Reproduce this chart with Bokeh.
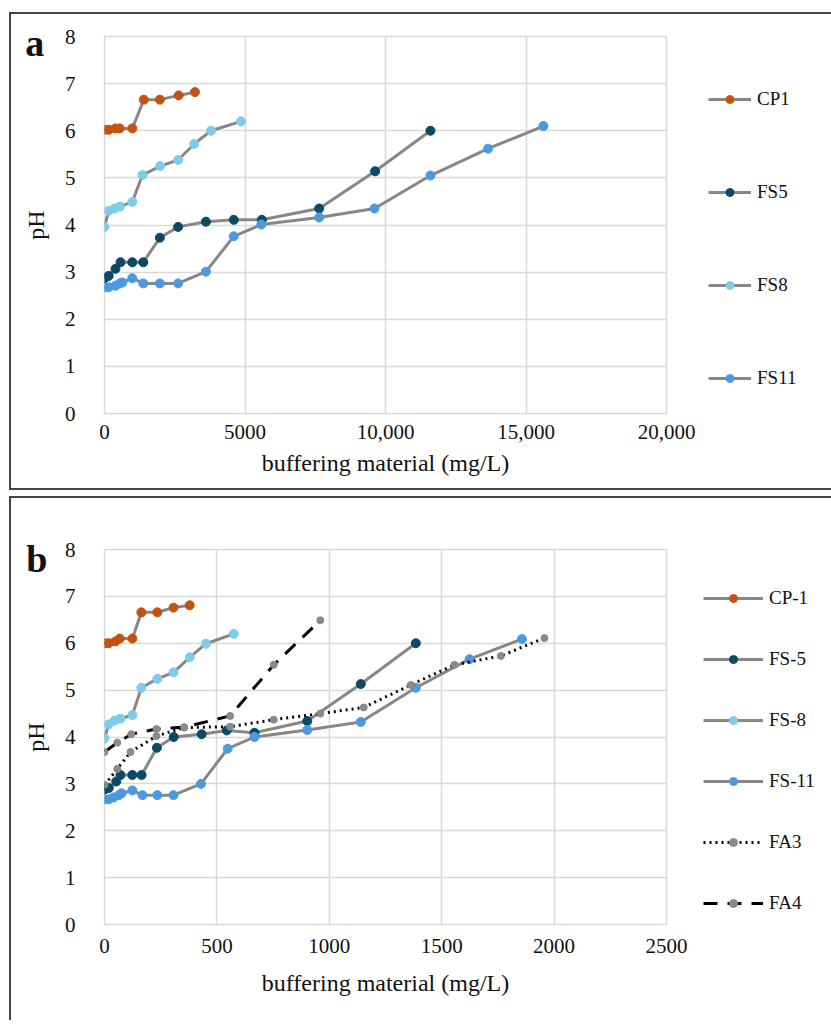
from bokeh.plotting import figure
from bokeh.models import Range1d, FixedTicker, Legend, LegendItem, Spacer
from bokeh.layouts import column, row
from bokeh.embed import file_html
from bokeh.resources import INLINE

# ---------------- Panel a data (x: mg/L, y: pH) ----------------
a_cp1_x = [0, 150, 390, 540, 990, 1400, 1970, 2640, 3220]
a_cp1_y = [6.02, 6.02, 6.05, 6.05, 6.05, 6.66, 6.66, 6.75, 6.82]
a_fs5_x = [0, 150, 390, 570, 990, 1380, 1970, 2620, 3610, 4600, 5600, 7640, 9630, 11600]
a_fs5_y = [2.87, 2.92, 3.07, 3.21, 3.21, 3.21, 3.73, 3.96, 4.07, 4.11, 4.11, 4.35, 5.14, 6.00]
a_fs8_x = [0, 150, 360, 550, 990, 1350, 1980, 2620, 3190, 3790, 4860]
a_fs8_y = [3.96, 4.30, 4.35, 4.39, 4.49, 5.06, 5.25, 5.38, 5.72, 6.00, 6.20]
a_fs11_x = [0, 150, 390, 550, 630, 990, 1380, 1970, 2620, 3610, 4600, 5580, 7640, 9610, 11600, 13650, 15620]
a_fs11_y = [2.68, 2.68, 2.71, 2.76, 2.78, 2.87, 2.76, 2.76, 2.76, 3.01, 3.76, 4.01, 4.16, 4.35, 5.05, 5.62, 6.10]
a_names = ["CP1", "FS5", "FS8", "FS11"]
a_xticks = [0, 5000, 10000, 15000, 20000]
a_xtick_labels = ["0", "5000", "10,000", "15,000", "20,000"]

# ---------------- Panel b data ----------------
b_cp1_x = [0, 19, 49, 68, 124, 164, 235, 307, 379]
b_cp1_y = [6.00, 6.00, 6.04, 6.10, 6.10, 6.66, 6.66, 6.76, 6.81]
b_fs5_x = [0, 19, 52, 71, 124, 165, 233, 308, 432, 544, 667, 902, 1140, 1385]
b_fs5_y = [2.88, 2.91, 3.05, 3.19, 3.19, 3.19, 3.77, 4.00, 4.06, 4.14, 4.09, 4.34, 5.13, 6.00]
b_fs8_x = [0, 19, 45, 71, 124, 164, 235, 307, 379, 451, 575]
b_fs8_y = [3.97, 4.27, 4.35, 4.39, 4.47, 5.05, 5.24, 5.38, 5.70, 5.99, 6.20]
b_fs11_x = [0, 19, 41, 64, 76, 124, 169, 235, 307, 429, 548, 667, 902, 1140, 1385, 1624, 1857]
b_fs11_y = [2.67, 2.67, 2.71, 2.76, 2.80, 2.86, 2.76, 2.76, 2.76, 3.00, 3.75, 4.00, 4.15, 4.32, 5.05, 5.66, 6.09]
b_fa3_x = [0, 57, 116, 231, 354, 559, 753, 960, 1153, 1362, 1557, 1763, 1957]
b_fa3_y = [2.98, 3.32, 3.68, 4.02, 4.20, 4.22, 4.37, 4.50, 4.63, 5.11, 5.54, 5.73, 6.11]
b_fa4_x = [0, 57, 119, 231, 354, 559, 753, 960]
b_fa4_y = [3.68, 3.88, 4.06, 4.17, 4.21, 4.45, 5.54, 6.49]
b_names = ["CP-1", "FS-5", "FS-8", "FS-11", "FA3", "FA4"]
b_xticks = [0, 500, 1000, 1500, 2000, 2500]
b_xtick_labels = ["0", "500", "1000", "1500", "2000", "2500"]

y_ticks = [0, 1, 2, 3, 4, 5, 6, 7, 8]

FONT = "Liberation Serif"
LINE_GREY = "#878787"
GRID = "#d9d9d9"
COLORS = {"CP": "#C4520F", "FS5": "#0B4A67", "FS8": "#7FCBEB", "FS11": "#4B9AE0", "FA": "#8A8A8A"}
BORDER = "2px solid #444444"


def base_fig(xmax, xticks, xlabels, top, bottom, tick_standoff, label_standoff):
    p = figure(frame_width=560, frame_height=373, title=None,
               x_range=Range1d(0, xmax), y_range=Range1d(0, 8),
               output_backend="svg", toolbar_location=None,
               min_border_left=93, min_border_right=157,
               min_border_top=top, min_border_bottom=bottom)
    p.xaxis.ticker = FixedTicker(ticks=xticks)
    p.xaxis.major_label_overrides = {t: l for t, l in zip(xticks, xlabels)}
    p.yaxis.ticker = FixedTicker(ticks=y_ticks)
    for ax in (p.xaxis[0], p.yaxis[0]):
        ax.axis_line_color = None
        ax.major_tick_line_color = None
        ax.minor_tick_line_color = None
        ax.major_tick_in = 0
        ax.major_tick_out = 0
        ax.major_label_text_font = FONT
        ax.major_label_text_font_size = "21px"
        ax.major_label_text_color = "#111111"
        ax.axis_label_text_font = FONT
        ax.axis_label_text_font_size = "24px"
        ax.axis_label_text_font_style = "normal"
        ax.axis_label_text_color = "#111111"
    p.xaxis.axis_label = "buffering material (mg/L)"
    p.yaxis.axis_label = "pH"
    p.xaxis.major_label_standoff = tick_standoff
    p.xaxis.axis_label_standoff = label_standoff
    p.yaxis.major_label_standoff = 29
    p.yaxis.axis_label_standoff = 13
    p.grid.grid_line_color = GRID
    p.grid.grid_line_width = 1.5
    p.outline_line_color = GRID
    p.outline_line_width = 1.5
    p.background_fill_color = "white"
    p.border_fill_color = "white"
    return p


def series(p, x, y, color, line_dash="solid", line_color=LINE_GREY, size=9):
    l = p.line(x, y, line_color=line_color, line_width=3, line_dash=line_dash)
    s = p.scatter(x, y, size=size, fill_color=color, line_color=color)
    return [l, s]


def make_legend(names, rends, loc, spacing, glyph_width):
    return Legend(items=[LegendItem(label=n, renderers=r) for n, r in zip(names, rends)],
                  location=loc, glyph_width=glyph_width, glyph_height=20, label_height=20,
                  spacing=spacing, padding=0, margin=0, label_standoff=6,
                  label_text_font=FONT, label_text_font_size="19px", label_text_color="#111111",
                  border_line_color=None, background_fill_alpha=0)


def panel_letter(p, letter, loc):
    # an invisible, empty renderer carries the bold panel letter (a / b)
    dummy = p.scatter([], [], size=1, fill_alpha=0, line_alpha=0)
    lg = Legend(items=[LegendItem(label=letter, renderers=[dummy])],
                location=loc, glyph_width=1, glyph_height=20, label_height=20,
                padding=0, margin=0, label_standoff=0,
                label_text_font=FONT, label_text_font_style="bold",
                label_text_font_size="38px", label_text_color="#111111",
                border_line_color=None, background_fill_alpha=0)
    p.add_layout(lg, "right")


# ---------------- Panel a ----------------
pa = base_fig(20000, a_xticks, a_xtick_labels, 22, 79, 11, 8)
ra = [
    series(pa, a_cp1_x, a_cp1_y, COLORS["CP"]),
    series(pa, a_fs5_x, a_fs5_y, COLORS["FS5"]),
    series(pa, a_fs8_x, a_fs8_y, COLORS["FS8"]),
    series(pa, a_fs11_x, a_fs11_y, COLORS["FS11"]),
]
pa.add_layout(make_legend(a_names, ra, (42, 24), 71, 43), "right")
panel_letter(pa, "a", (-1208, 348))
pa.styles = {"border-top": BORDER, "border-left": BORDER, "border-bottom": BORDER}

# ---------------- Panel b ----------------
pb = base_fig(2500, b_xticks, b_xtick_labels, 51, 98, 14, 14)
rb = [
    series(pb, b_cp1_x, b_cp1_y, COLORS["CP"]),
    series(pb, b_fs5_x, b_fs5_y, COLORS["FS5"]),
    series(pb, b_fs8_x, b_fs8_y, COLORS["FS8"]),
    series(pb, b_fs11_x, b_fs11_y, COLORS["FS11"]),
    series(pb, b_fa3_x, b_fa3_y, COLORS["FA"], line_dash="2 4", line_color="black", size=7),
    series(pb, b_fa4_x, b_fa4_y, COLORS["FA"], line_dash="14 10", line_color="black", size=7),
]
pb.add_layout(make_legend(b_names, rb, (37, 10), 39, 60), "right")
panel_letter(pb, "b", (-1222, 343))
pb.styles = {"border-top": BORDER, "border-left": BORDER}

layout = row(Spacer(width=9), column(Spacer(height=12), pa, Spacer(height=6), pb))

with open("out.html", "w") as f:
    f.write(file_html(layout, INLINE))
